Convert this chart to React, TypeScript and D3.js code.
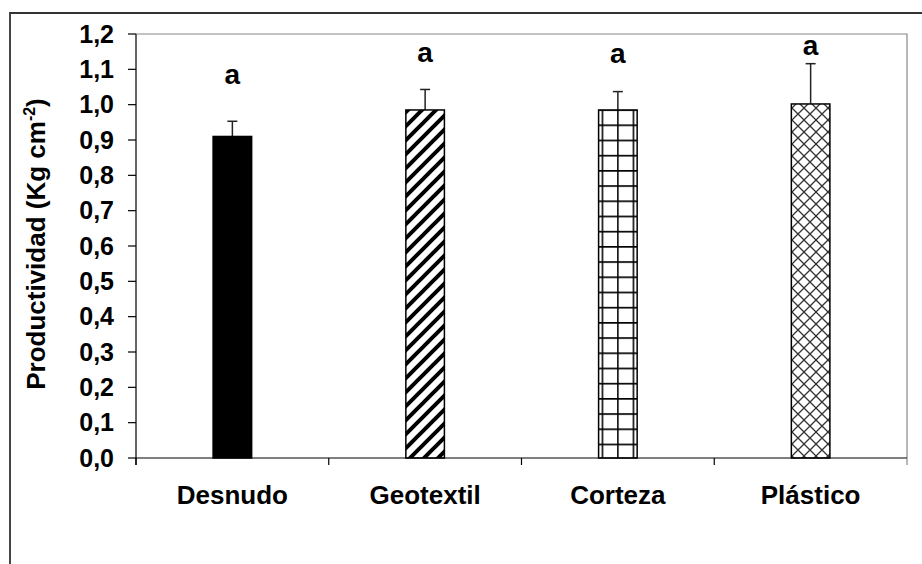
import React from "react";
import * as d3 from "d3";

const categories = ["Desnudo", "Geotextil", "Corteza", "Plástico"];
const means = [0.91, 0.985, 0.985, 1.002];
const errors = [0.043, 0.058, 0.052, 0.114];
const letters = ["a", "a", "a", "a"];
const letterLevels = [1.058, 1.122, 1.119, 1.141];
const fills = ["black", "url(#diag)", "url(#grid)", "url(#cross)"];
const yTicks = [0, 0.1, 0.2, 0.3, 0.4, 0.5, 0.6, 0.7, 0.8, 0.9, 1.0, 1.1, 1.2];

const W = 922;
const H = 564;
const plotL = 136;
const plotR = 907;
const plotT = 34;
const plotB = 458;
const FONT = "'Liberation Sans', Arial, sans-serif";

export default function App() {
  const x = d3.scaleBand<string>().domain(categories).range([plotL, plotR]).paddingInner(0).paddingOuter(0);
  const y = d3.scaleLinear().domain([0, 1.2]).range([plotB, plotT]);
  const bw = x.bandwidth() * 0.2;
  const fmt = (v: number) => d3.format(".1f")(v).replace(".", ",");
  const boundaries = [...categories.map((c) => x(c) as number), plotR];

  return (
    <div style={{ position: "fixed", left: 0, top: 0 }}>
      <svg width={W} height={H} style={{ display: "block", background: "white" }} fontFamily={FONT}>
        <defs>
          <pattern id="diag" patternUnits="userSpaceOnUse" width="14" height="14">
            <rect width="14" height="14" fill="white" />
            <path d="M-2,16 L16,-2 M-9,9 L9,-9 M5,23 L23,5" stroke="black" strokeWidth="4" />
          </pattern>
          <pattern id="grid" patternUnits="userSpaceOnUse" width="15.5" height="15.2" x={(x("Corteza") as number) + x.bandwidth() / 2 - 0.75} y={y(means[2]) - 0.75}>
            <rect width="15.5" height="15.2" fill="white" />
            <path d="M0.75,0 V15.2 M0,0.75 H15.5" stroke="black" strokeWidth="1.6" />
          </pattern>
          <pattern id="cross" patternUnits="userSpaceOnUse" width="12" height="12">
            <rect width="12" height="12" fill="white" />
            <path d="M0,0 L12,12 M12,0 L0,12" stroke="#333" strokeWidth="1.3" />
          </pattern>
        </defs>

        {/* outer border */}
        <path d={`M10,${H + 2} V13 H${W + 2}`} fill="none" stroke="#333" strokeWidth={1.8} />

        {/* plot frame top/right */}
        <path d={`M${plotL},${plotT} H${plotR} V${plotB}`} fill="none" stroke="#888" strokeWidth={1.2} />

        {/* bars */}
        {categories.map((c, i) => {
          const cx = (x(c) as number) + x.bandwidth() / 2;
          return (
            <g key={c}>
              <line x1={cx} x2={cx} y1={y(means[i])} y2={y(means[i] + errors[i])} stroke="#222" strokeWidth={1.5} />
              <line x1={cx - 5} x2={cx + 5} y1={y(means[i] + errors[i])} y2={y(means[i] + errors[i])} stroke="#222" strokeWidth={1.5} />
              <rect x={cx - bw / 2} y={y(means[i])} width={bw} height={plotB - y(means[i])} fill={fills[i]} stroke="black" strokeWidth={1.5} />
              <text x={cx} y={y(letterLevels[i])} textAnchor="middle" fontWeight="bold" fontSize={28}>{letters[i]}</text>
              <text x={cx} y={504} textAnchor="middle" fontWeight="bold" fontSize={26}>{c}</text>
            </g>
          );
        })}

        {/* y axis */}
        <line x1={plotL} x2={plotL} y1={plotT} y2={plotB + 7} stroke="black" strokeWidth={1.2} />
        {yTicks.map((t) => (
          <g key={t}>
            <line x1={plotL - 8} x2={plotL} y1={y(t)} y2={y(t)} stroke="black" strokeWidth={1.2} />
            <text x={114} y={y(t) + 8.5} textAnchor="end" fontWeight="bold" fontSize={25}>{fmt(t)}</text>
          </g>
        ))}

        {/* x axis */}
        <line x1={plotL} x2={plotR} y1={plotB} y2={plotB} stroke="black" strokeWidth={1.2} />
        {boundaries.map((b, i) => (
          <line key={i} x1={b} x2={b} y1={plotB} y2={plotB + 7} stroke={i === boundaries.length - 1 ? "#888" : "black"} strokeWidth={1.2} />
        ))}

        {/* y title */}
        <text transform={`translate(45,${(plotT + plotB) / 2 - 2}) rotate(-90)`} textAnchor="middle" fontWeight="bold" fontSize={26}>
          Productividad (Kg cm<tspan dy={-10} fontSize={16}>-2</tspan><tspan dy={10}>)</tspan>
        </text>
      </svg>
    </div>
  );
}
